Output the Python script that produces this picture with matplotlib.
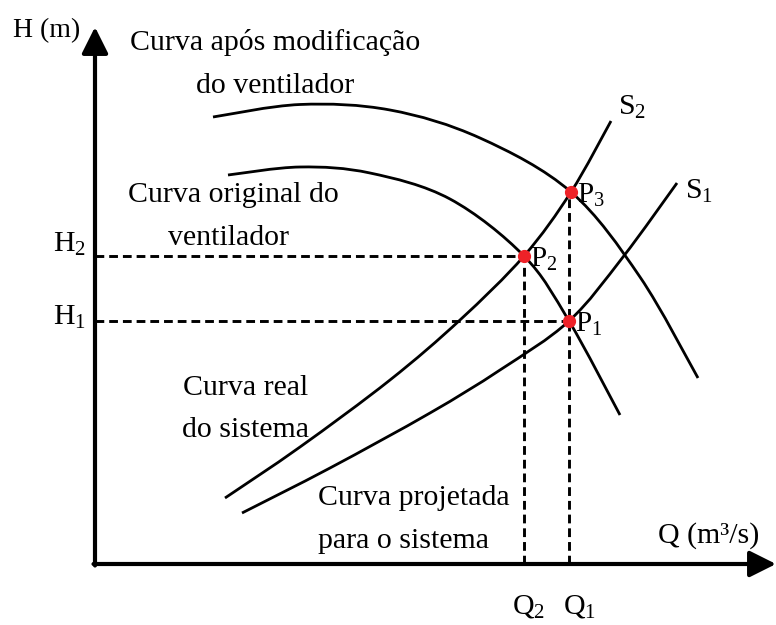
import numpy as np
import matplotlib
matplotlib.use("Agg")
import matplotlib.pyplot as plt
from matplotlib.path import Path
from matplotlib.patches import PathPatch

plt.rcParams['font.family'] = ['Liberation Serif', 'DejaVu Serif']
plt.rcParams['mathtext.fontset'] = 'custom'
plt.rcParams['mathtext.rm'] = 'Liberation Serif'
plt.rcParams['mathtext.it'] = 'Liberation Serif:italic'

# curvas (Q, H) em unidades arbitrárias do esquema
q_vent_mod = [11.8, 20.5, 29.5, 38.5, 47.6, 54.5, 60.3]
h_vent_mod = [44.7, 45.95, 45.4, 42.6, 37.2, 28.7, 18.6]

q_vent_orig = [13.3, 20.5, 27.5, 35.5, 42.9, 47.4, 52.5]
h_vent_orig = [38.9, 39.7, 39.1, 36.5, 30.8, 24.3, 14.9]

q_sist_real = [13.0, 20.5, 29.5, 36.5, 42.9, 47.6, 51.6]
h_sist_real = [6.6, 11.7, 18.4, 24.4, 30.8, 37.2, 44.3]

q_sist_proj = [14.7, 23.5, 33.5, 40.5, 47.4, 52.8, 58.2]
h_sist_proj = [5.1, 9.6, 15.1, 19.4, 24.3, 30.7, 38.1]

# pontos de operação
pontos = ['P$_1$', 'P$_2$', 'P$_3$']
q_pontos = [47.4, 42.9, 47.6]
h_pontos = [24.3, 30.8, 37.2]


def curva(ax, q, h, lw=2.0):
    # spline de Catmull-Rom convertida em segmentos cúbicos de Bézier
    p = np.column_stack([q, h])
    p = np.vstack([p[0], p, p[-1]])
    verts = [tuple(p[1])]
    codes = [Path.MOVETO]
    for i in range(1, len(p) - 2):
        c1 = p[i] + (p[i + 1] - p[i - 1]) / 6
        c2 = p[i + 1] - (p[i + 2] - p[i]) / 6
        verts += [tuple(c1), tuple(c2), tuple(p[i + 1])]
        codes += [Path.CURVE4] * 3
    ax.add_patch(PathPatch(Path(verts, codes), fc='none', ec='black', lw=lw,
                           capstyle='butt'))


fig = plt.figure(figsize=(7.76, 6.25), dpi=100)
ax = fig.add_axes([0, 0, 1, 1])
ax.set_xlim(-9.5, 68.1)
ax.set_ylim(-6.1, 56.4)
ax.axis('off')

# eixos com setas
seta = dict(arrowstyle='-|>,head_length=0.8,head_width=0.4', lw=3, color='black',
            shrinkA=0, shrinkB=0, mutation_scale=20)
ax.annotate('', xy=(68.1, 0), xytext=(-0.15, 0), arrowprops=seta)
ax.annotate('', xy=(0, 53.7), xytext=(0, -0.15), arrowprops=seta)

for q, h in zip([q_vent_mod, q_vent_orig, q_sist_real, q_sist_proj],
                [h_vent_mod, h_vent_orig, h_sist_real, h_sist_proj]):
    curva(ax, q, h)

# linhas tracejadas de projeção
tr = dict(color='black', lw=2.1, dashes=(3.0, 1.7))
ax.plot([0, q_pontos[1]], [h_pontos[1]] * 2, **tr)
ax.plot([0, q_pontos[0]], [h_pontos[0]] * 2, **tr)
ax.plot([q_pontos[1]] * 2, [0, h_pontos[1]], **tr)
ax.plot([q_pontos[0]] * 2, [0, h_pontos[2]], **tr)

ax.plot(q_pontos, h_pontos, 'o', color='#ee2228', ms=8.5, zorder=5)
for nome, q, h in zip(pontos, q_pontos, h_pontos):
    ax.text(q + 0.6, h - 1.05, nome, fontsize=21, ha='left', va='baseline')

fs = 21.5
ax.text(-8.2, 52.7, 'H (m)', fontsize=20, ha='left', va='baseline')
ax.text(18.0, 51.4, 'Curva após modificação', fontsize=fs, ha='center', va='baseline')
ax.text(18.0, 47.1, 'do ventilador', fontsize=fs, ha='center', va='baseline')
ax.text(13.8, 36.2, 'Curva original do', fontsize=fs, ha='center', va='baseline')
ax.text(13.3, 31.9, 'ventilador', fontsize=fs, ha='center', va='baseline')
ax.text(8.8, 16.9, 'Curva real', fontsize=fs, ha='left', va='baseline')
ax.text(8.7, 12.7, 'do sistema', fontsize=fs, ha='left', va='baseline')
ax.text(22.3, 5.9, 'Curva projetada', fontsize=fs, ha='left', va='baseline')
ax.text(22.3, 1.6, 'para o sistema', fontsize=fs, ha='left', va='baseline')
ax.text(56.3, 2.1, 'Q (m³/s)', fontsize=fs, ha='left', va='baseline')
ax.text(52.3, 44.9, 'S$_2$', fontsize=fs, ha='left', va='baseline')
ax.text(59.0, 36.5, 'S$_1$', fontsize=fs, ha='left', va='baseline')
ax.text(-4.2, 31.2, 'H$_2$', fontsize=fs, ha='left', va='baseline')
ax.text(-4.2, 23.9, 'H$_1$', fontsize=fs, ha='left', va='baseline')
ax.text(41.7, -5.0, 'Q$_2$', fontsize=fs, ha='left', va='baseline')
ax.text(46.8, -5.0, 'Q$_1$', fontsize=fs, ha='left', va='baseline')

fig.savefig('out.png', dpi=100)
